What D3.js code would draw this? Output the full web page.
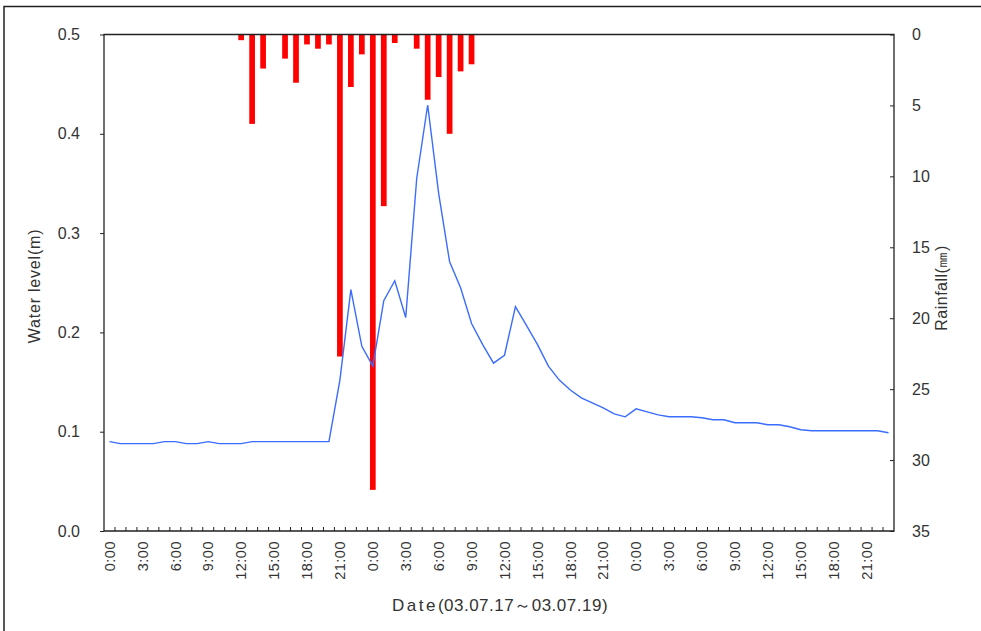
<!DOCTYPE html>
<html>
<head>
<meta charset="utf-8">
<script src="https://cdn.jsdelivr.net/npm/d3@7"></script>
<style>
  body { margin: 0; background: #fff; }
  svg { display: block; font-family: 'Liberation Sans', Arial, sans-serif; }
</style>
</head>
<body>
<svg id="chart" width="981" height="631"></svg>
<script>
// hourly observations, 03.07.17 0:00 -> 03.07.19 23:00
var days = ['03.07.17', '03.07.18', '03.07.19']
var hours = d3.range(24).map(function (h) { return h + ':00' })

var waterLevel = [
  0.090, 0.088, 0.088, 0.088, 0.088, 0.090, 0.090, 0.088, 0.088, 0.090, 0.088, 0.088,
  0.088, 0.090, 0.090, 0.090, 0.090, 0.090, 0.090, 0.090, 0.090, 0.152, 0.243, 0.186,
  0.166, 0.232, 0.252, 0.215, 0.355, 0.429, 0.340, 0.271, 0.245, 0.209, 0.188, 0.169,
  0.177, 0.226, 0.207, 0.188, 0.166, 0.152, 0.142, 0.134, 0.129, 0.124, 0.118, 0.115,
  0.123, 0.120, 0.117, 0.115, 0.115, 0.115, 0.114, 0.112, 0.112, 0.109, 0.109, 0.109,
  0.107, 0.107, 0.105, 0.102, 0.101, 0.101, 0.101, 0.101, 0.101, 0.101, 0.101, 0.099
]

var rainfall = [
  0, 0, 0, 0, 0, 0, 0, 0, 0, 0, 0, 0,
  0.4, 6.3, 2.4, 0, 1.7, 3.4, 0.7, 1.0, 0.7, 22.7, 3.7, 1.4,
  32.1, 12.1, 0.6, 0, 1.0, 4.6, 3.0, 7.0, 2.6, 2.1, 0, 0,
  0, 0, 0, 0, 0, 0, 0, 0, 0, 0, 0, 0,
  0, 0, 0, 0, 0, 0, 0, 0, 0, 0, 0, 0,
  0, 0, 0, 0, 0, 0, 0, 0, 0, 0, 0, 0
]

var levelTicks = [0, 0.1, 0.2, 0.3, 0.4, 0.5]
var rainTicks = [0, 5, 10, 15, 20, 25, 30, 35]

var slots = d3.range(days.length * hours.length)
var labelFor = function (i) { return hours[i % 24] }

var svg = d3.select('#chart')
var plotL = 104, plotR = 894, plotT = 34.5, plotB = 531
var textColor = '#333'

// outer frame (top and left edge only)
svg.append('path')
  .attr('d', 'M4,631V6.5H981')
  .attr('fill', 'none')
  .attr('stroke', '#222')
  .attr('stroke-width', 1.5)

var x = d3.scaleBand().domain(slots).range([plotL, plotR]).padding(0)
var yLevel = d3.scaleLinear().domain([0, 0.5]).range([plotB, plotT])
var yRain = d3.scaleLinear().domain([0, 35]).range([plotT, plotB])

// rainfall bars hang from the top
var barW = x.bandwidth() * 0.52
svg.append('g')
  .selectAll('rect')
  .data(slots.filter(function (i) { return rainfall[i] > 0 }))
  .join('rect')
  .attr('x', function (i) { return x(i) + (x.bandwidth() - barW) / 2 })
  .attr('y', yRain(0))
  .attr('width', barW)
  .attr('height', function (i) { return yRain(rainfall[i]) - yRain(0) })
  .attr('fill', '#ff0000')

// water level line
var line = d3.line()
  .x(function (i) { return x(i) + x.bandwidth() / 2 })
  .y(function (i) { return yLevel(waterLevel[i]) })
svg.append('path')
  .datum(slots)
  .attr('d', line)
  .attr('fill', 'none')
  .attr('stroke', '#3a6cff')
  .attr('stroke-width', 1.4)

// plot box
svg.append('path')
  .attr('d', 'M' + plotL + ',' + plotB + 'V' + plotT + 'H' + plotR + 'V' + plotB + 'Z')
  .attr('fill', 'none')
  .attr('stroke', '#222')
  .attr('stroke-width', 1.3)

// left axis
var gl = svg.append('g')
  .attr('transform', 'translate(' + plotL + ',0)')
  .call(d3.axisLeft(yLevel).tickValues(levelTicks).tickFormat(d3.format('.1f')).tickSize(4).tickPadding(20))
gl.select('.domain').remove()
gl.selectAll('line').attr('stroke', '#222')
gl.selectAll('text').attr('font-size', 16).attr('fill', textColor)
gl.attr('font-family', null)

// right axis, ticks point inward
var gr = svg.append('g')
  .attr('transform', 'translate(' + plotR + ',0)')
  .call(d3.axisRight(yRain).tickValues(rainTicks).tickSize(-4).tickPadding(18))
gr.select('.domain').remove()
gr.selectAll('line').attr('stroke', '#222')
gr.selectAll('text').attr('font-size', 16).attr('fill', textColor)
gr.attr('font-family', null)

// bottom axis: small inward ticks between hours
svg.append('g')
  .selectAll('line')
  .data(slots.slice(1))
  .join('line')
  .attr('x1', function (i) { return x(i) })
  .attr('x2', function (i) { return x(i) })
  .attr('y1', plotB)
  .attr('y2', plotB - 4)
  .attr('stroke', '#222')
  .attr('stroke-width', 1)

svg.append('g')
  .selectAll('text')
  .data(slots.filter(function (i) { return i % 3 === 0 }))
  .join('text')
  .attr('transform', function (i) {
    return 'translate(' + (x(i) + x.bandwidth() / 2) + ',' + (plotB + 10) + ') rotate(-90)'
  })
  .attr('dy', '0.36em')
  .attr('text-anchor', 'end')
  .attr('font-size', 14.5)
  .attr('letter-spacing', 0.5)
  .attr('fill', textColor)
  .text(labelFor)

// axis titles
svg.append('text')
  .attr('transform', 'translate(40,286) rotate(-90)')
  .attr('text-anchor', 'middle')
  .attr('font-size', 16)
  .attr('letter-spacing', 0.8)
  .attr('fill', textColor)
  .text('Water level(m)')

svg.append('text')
  .attr('transform', 'translate(947,288) rotate(-90)')
  .attr('text-anchor', 'middle')
  .attr('font-size', 16)
  .attr('letter-spacing', 0.5)
  .attr('fill', textColor)
  .text('Rainfall(㎜)')

var title = svg.append('text')
  .attr('x', 500)
  .attr('y', 611)
  .attr('text-anchor', 'middle')
  .attr('font-size', 17)
  .attr('letter-spacing', 0.5)
  .attr('fill', textColor)
title.append('tspan').attr('letter-spacing', 2.5).text('Date')
title.append('tspan').text('(' + days[0] + '～' + days[2] + ')')
</script>
</body>
</html>
